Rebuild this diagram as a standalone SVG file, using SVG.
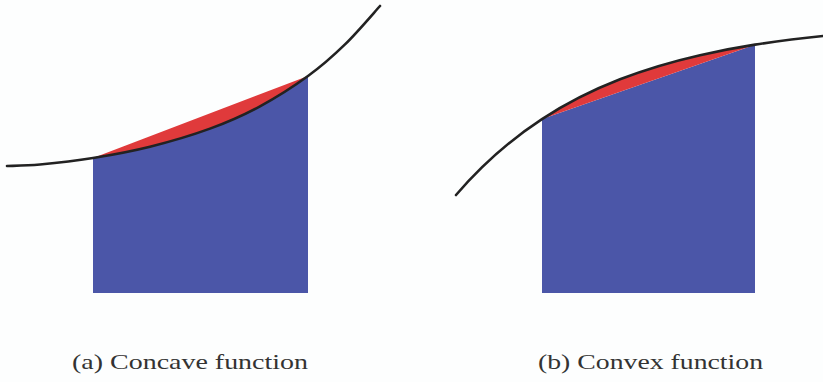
<svg xmlns="http://www.w3.org/2000/svg" width="823" height="382" viewBox="0 0 823 382">
<style>
.blue{fill:#4b56a8;stroke:none}
.red{fill:#e03a3b;stroke:none}
.curve{fill:none;stroke:#222;stroke-width:2.6;stroke-linecap:round;stroke-linejoin:round}
.cap{font-family:"Liberation Serif","DejaVu Serif",serif;font-size:22px;fill:#333}
</style>
<rect width="823" height="382" fill="#fdfefe"/>
<g id="concave">
<path class="blue" d="M93,293 L93,158 C111.3,155 130.5,151.6 150,146.7 C169.5,141.8 191.7,135.3 210,128.6 C228.3,121.9 243.7,115.1 260,106.3 C276.3,97.5 293.8,86.3 308,76 L308,293 Z"/>
<path class="red" d="M93,158 L308,76 C293.8,86.3 276.3,97.5 260,106.3 C243.7,115.1 228.3,121.9 210,128.6 C191.7,135.3 169.5,141.8 150,146.7 C130.5,151.6 111.3,155 93,158 Z"/>
<path class="curve" d="M7,166 C12.5,165.75 25.7,165.8 40,164.5 C54.3,163.2 74.7,161 93,158 C111.3,155 130.5,151.6 150,146.7 C169.5,141.8 191.7,135.3 210,128.6 C228.3,121.9 243.7,115.1 260,106.3 C276.3,97.5 293.8,86.3 308,76 C322.2,65.7 333,56.1 345,44.4 C357,32.7 374.2,12.4 380,6"/>
<text class="cap" x="72" y="369" textLength="236" lengthAdjust="spacingAndGlyphs">(a) Concave function</text>
</g>
<g id="convex">
<path class="blue" d="M542,293 L542,119.1 L755,44.65 L755,293 Z"/>
<path class="red" d="M542,119.1 C568,102.09 594,89.41 620,79.3 C646.67,68.93 673.33,61.29 700,55.2 C718.33,51.02 736.67,47.55 755,44.65 Z"/>
<path class="curve" d="M456,195 C484.67,161.73 513.33,137.85 542,119.1 C568,102.09 594,89.41 620,79.3 C646.67,68.93 673.33,61.29 700,55.2 C718.33,51.02 736.67,47.55 755,44.65 C777.67,41.07 800.33,38.28 823,36"/>
<text class="cap" x="538" y="369" textLength="225" lengthAdjust="spacingAndGlyphs">(b) Convex function</text>
</g>
</svg>
